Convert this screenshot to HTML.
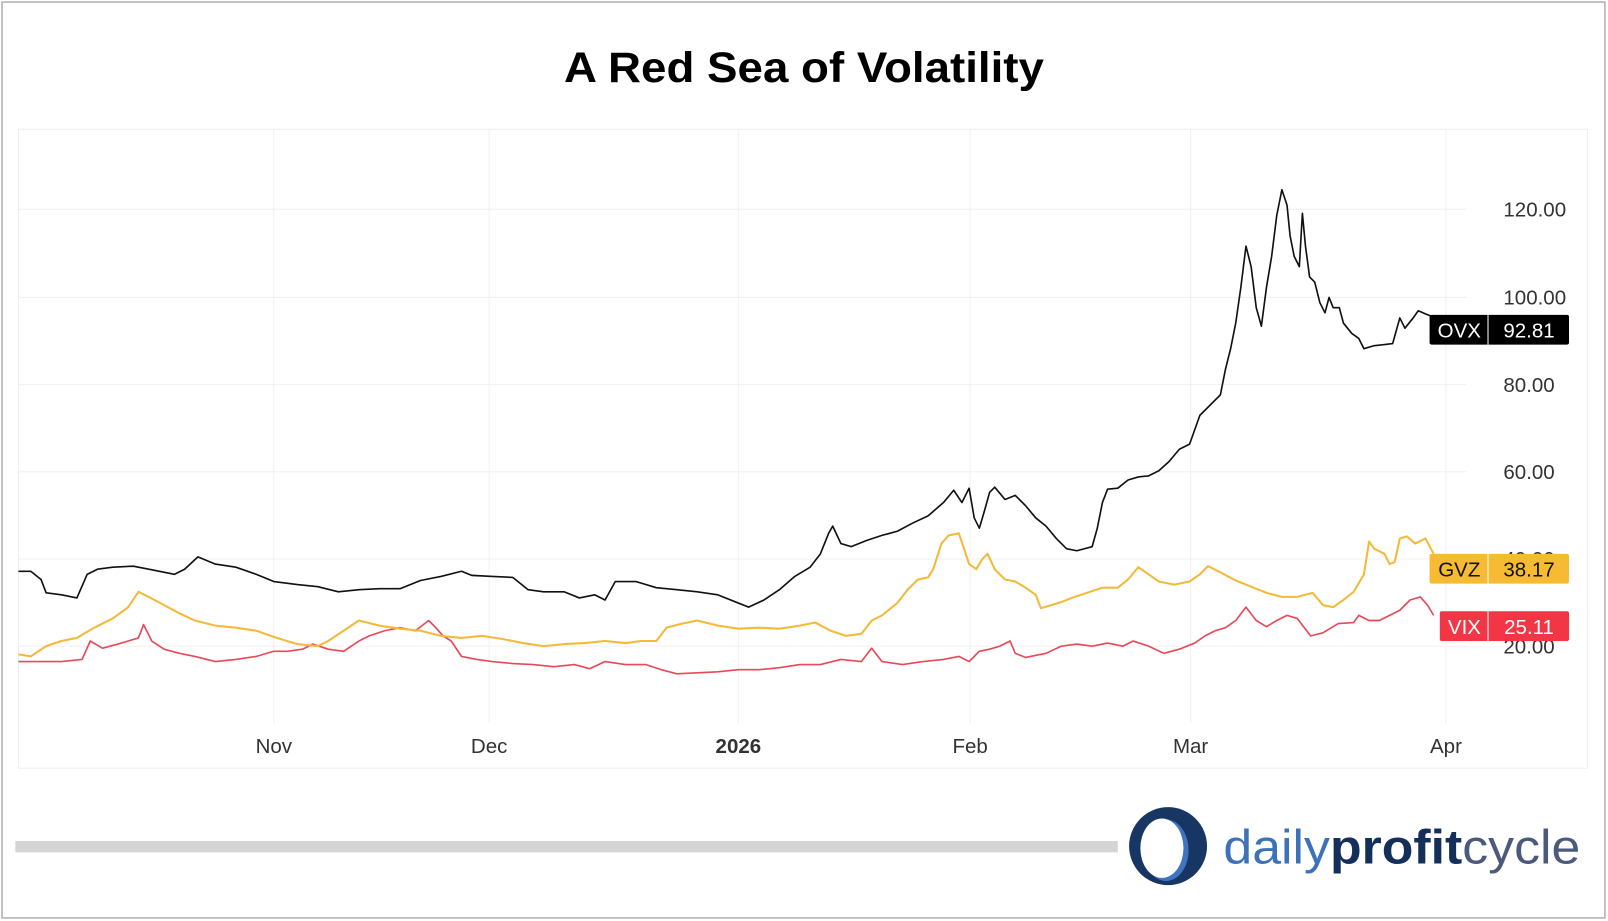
<!DOCTYPE html>
<html><head><meta charset="utf-8">
<style>
html,body{margin:0;padding:0;background:#fff;}
svg{display:block;}
</style></head>
<body>
<svg width="1608" height="921" viewBox="0 0 1568 898" preserveAspectRatio="none" xmlns="http://www.w3.org/2000/svg" font-family="Liberation Sans, sans-serif">
<rect x="0" y="0" width="1568" height="898" fill="#fff"/>
<rect x="2" y="2" width="1563" height="893" fill="none" stroke="#b0b0b0" stroke-width="1.5"/>
<text x="784" y="80" text-anchor="middle" font-weight="bold" font-size="42" fill="#000" textLength="468" lengthAdjust="spacingAndGlyphs">A Red Sea of Volatility</text>
<rect x="18" y="126" width="1530" height="623" fill="#fff" stroke="#efefef" stroke-width="1"/>
<g stroke="#f0f0f0" stroke-width="1">
<line x1="18" y1="204" x2="1430" y2="204"/>
<line x1="18" y1="290" x2="1430" y2="290"/>
<line x1="18" y1="375" x2="1430" y2="375"/>
<line x1="18" y1="460" x2="1430" y2="460"/>
<line x1="18" y1="545" x2="1430" y2="545"/>
<line x1="18" y1="630" x2="1430" y2="630"/>
<line x1="267" y1="126" x2="267" y2="705"/>
<line x1="477" y1="126" x2="477" y2="705"/>
<line x1="720" y1="126" x2="720" y2="705"/>
<line x1="946" y1="126" x2="946" y2="705"/>
<line x1="1161" y1="126" x2="1161" y2="705"/>
<line x1="1410" y1="126" x2="1410" y2="705"/>
</g>
<g font-size="20" fill="#333">
<text x="1466" y="211">120.00</text>
<text x="1466" y="297">100.00</text>
<text x="1466" y="382">80.00</text>
<text x="1466" y="467">60.00</text>
<text x="1466" y="552">40.00</text>
<text x="1466" y="637">20.00</text>
</g>
<g font-size="20" fill="#333" text-anchor="middle">
<text x="267" y="734">Nov</text>
<text x="477" y="734">Dec</text>
<text x="720" y="734" font-weight="bold">2026</text>
<text x="946" y="734">Feb</text>
<text x="1161" y="734">Mar</text>
<text x="1410" y="734">Apr</text>
</g>
<polyline fill="none" stroke="#e8495a" stroke-width="1.6" stroke-linejoin="round" points="18,645 40,645 60,645 80,643 88,625 100,632 115,628 125,625 135,622 140,609 148,625 160,633 175,637 190,640 210,645 230,643 250,640 267,635 280,635 295,633 305,628 320,633 335,635 350,625 360,620 375,615 390,612 405,615 418,605 425,612 432,620 440,625 450,640 465,643 480,645 500,647 520,648 540,650 560,648 575,652 590,645 610,648 630,648 645,653 660,657 680,656 700,655 720,653 740,653 760,651 780,648 800,648 820,643 840,645 850,632 860,645 880,648 900,645 920,643 935,640 945,645 955,635 965,633 975,630 985,625 990,637 1000,641 1020,637 1035,630 1050,628 1065,630 1080,627 1095,630 1105,625 1120,630 1135,637 1150,633 1165,627 1175,620 1185,615 1195,612 1205,605 1215,592 1225,605 1235,611 1245,605 1255,600 1265,603 1278,620 1290,617 1305,608 1320,607 1325,600 1335,605 1345,605 1355,600 1365,595 1375,585 1385,582 1392,590 1398,600"/>
<polyline fill="none" stroke="#f4b938" stroke-width="2" stroke-linejoin="round" points="18,638 30,640 45,630 60,625 75,622 90,613 110,603 125,592 135,577 145,582 160,590 175,598 190,605 210,610 230,612 250,615 270,622 290,628 310,630 320,625 335,615 350,605 370,610 390,613 410,615 430,620 450,622 470,620 490,623 510,627 530,630 550,628 570,627 590,625 610,627 625,625 640,625 650,612 665,608 680,605 700,610 720,613 740,612 760,613 780,610 795,607 810,615 825,620 840,618 850,605 860,600 875,588 885,575 895,565 905,563 910,555 918,530 925,522 935,520 940,535 945,550 952,555 958,545 963,540 970,555 980,565 990,567 1000,573 1010,580 1015,593 1025,590 1035,587 1045,583 1060,578 1075,573 1090,573 1100,565 1110,553 1120,560 1130,567 1145,570 1160,567 1170,560 1178,552 1190,558 1205,566 1220,572 1235,578 1250,582 1265,582 1280,578 1290,590 1300,592 1310,585 1320,577 1330,560 1335,528 1340,535 1350,540 1355,550 1360,548 1365,525 1372,523 1380,530 1390,525 1398,540"/>
<polyline fill="none" stroke="#111" stroke-width="1.6" stroke-linejoin="round" points="18,557 30,557 40,565 45,578 60,580 75,583 85,560 95,555 110,553 130,552 150,556 170,560 180,555 193,543 210,550 230,553 250,560 267,567 290,570 310,572 330,577 350,575 370,574 390,574 410,566 430,562 450,557 460,561 480,562 500,563 515,575 530,577 550,577 565,583 580,580 590,585 600,567 620,567 640,573 660,575 680,577 700,580 720,588 730,592 745,585 760,575 775,562 790,553 800,540 808,520 812,513 820,530 830,533 845,527 860,522 875,518 890,510 905,503 920,490 930,478 938,490 945,476 950,505 955,515 960,498 965,480 970,475 980,487 990,483 1000,493 1010,505 1020,513 1030,525 1040,535 1050,537 1065,533 1070,515 1075,490 1080,477 1090,476 1100,468 1110,465 1120,464 1130,459 1140,450 1150,438 1160,433 1170,405 1180,395 1190,385 1195,360 1200,340 1205,315 1210,280 1215,240 1220,260 1225,300 1230,318 1235,280 1240,250 1245,210 1250,185 1255,200 1258,230 1262,250 1267,260 1270,208 1273,240 1277,270 1282,275 1287,295 1292,305 1296,290 1300,300 1306,300 1310,315 1318,325 1325,330 1330,340 1340,337 1350,336 1358,335 1365,310 1370,320 1378,310 1383,303 1390,306 1395,308"/>
<g font-size="20">
<rect x="1394" y="307" width="136" height="29" rx="2" fill="#000"/>
<line x1="1451" y1="307" x2="1451" y2="336" stroke="#fff" stroke-width="1"/>
<text x="1423" y="329" fill="#fff" text-anchor="middle">OVX</text>
<text x="1491" y="329" fill="#fff" text-anchor="middle">92.81</text>
<rect x="1394" y="540" width="136" height="29" rx="2" fill="#f6bb32"/>
<line x1="1451" y1="540" x2="1451" y2="569" stroke="#fff" stroke-width="1"/>
<text x="1423" y="562" fill="#111" text-anchor="middle">GVZ</text>
<text x="1491" y="562" fill="#111" text-anchor="middle">38.17</text>
<rect x="1404" y="596" width="126" height="29" rx="2" fill="#f23645"/>
<line x1="1451" y1="596" x2="1451" y2="625" stroke="#fff" stroke-width="1"/>
<text x="1428" y="618" fill="#fff" text-anchor="middle">VIX</text>
<text x="1491" y="618" fill="#fff" text-anchor="middle">25.11</text>
</g>
<rect x="15" y="820" width="1075" height="11" fill="#d4d4d4"/>
<circle cx="1139" cy="825" r="38" fill="#173663"/>
<ellipse cx="1137" cy="829" rx="22" ry="30" fill="#3f74c0"/>
<ellipse cx="1133" cy="827" rx="21" ry="29" fill="#fff"/>
<text x="1193" y="842" font-size="47" fill="#3d72b8" textLength="348" lengthAdjust="spacingAndGlyphs"><tspan>daily</tspan><tspan fill="#14305a" font-weight="bold">profit</tspan><tspan fill="#4b5a7c">cycle</tspan></text>
</svg>
</body></html>
